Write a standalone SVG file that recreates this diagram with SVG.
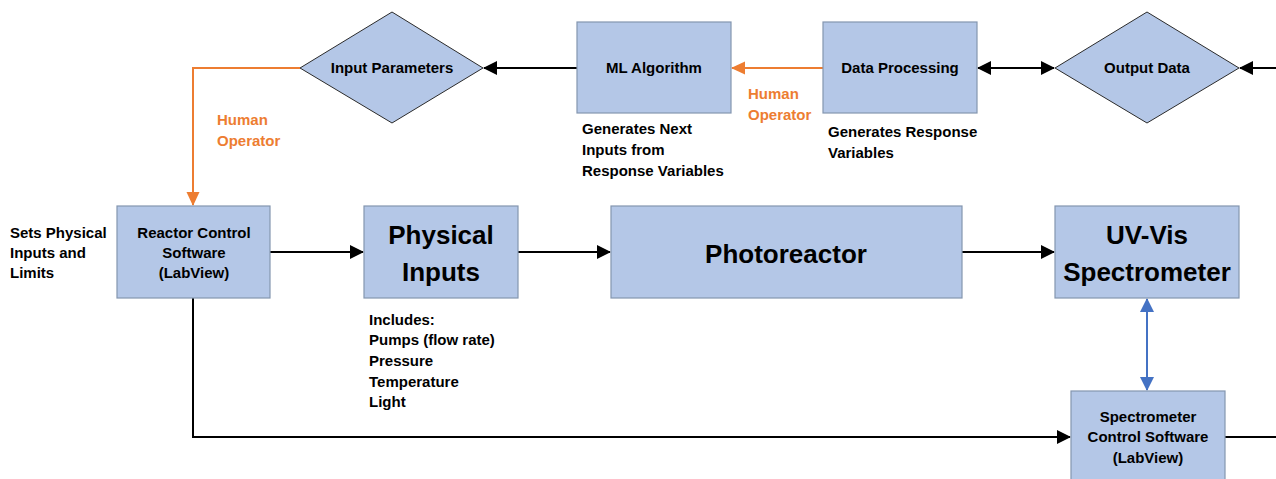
<svg xmlns="http://www.w3.org/2000/svg" width="1276" height="479" viewBox="0 0 1276 479">
<style>
.box{fill:#B4C7E7;stroke:#8496B0;stroke-width:1.2}
.dia{fill:#B4C7E7;stroke:#2b2b2b;stroke-width:1}
text{font-family:"Liberation Sans",Arial,sans-serif;font-weight:bold;fill:#000}
.s{font-size:15px}
.c{text-anchor:middle}
.big{font-size:26px}
.or{fill:#ED7D31}
.k{stroke:#000;stroke-width:2;fill:none}
.o{stroke:#ED7D31;stroke-width:2;fill:none}
.b{stroke:#4472C4;stroke-width:2;fill:none}
</style>
<defs>
<marker id="ak" markerUnits="userSpaceOnUse" viewBox="0 0 14 14" markerWidth="14" markerHeight="14" refX="13" refY="7" orient="auto-start-reverse"><path d="M0,0 L14,7 L0,14 z" fill="#000"/></marker>
<marker id="ao" markerUnits="userSpaceOnUse" viewBox="0 0 14 14" markerWidth="14" markerHeight="14" refX="13" refY="7" orient="auto-start-reverse"><path d="M0,0.5 L14,7 L0,13.5 z" fill="#ED7D31"/></marker>
<marker id="ab" markerUnits="userSpaceOnUse" viewBox="0 0 14 14" markerWidth="14" markerHeight="14" refX="13" refY="7" orient="auto-start-reverse"><path d="M0,0 L14,7 L0,14 z" fill="#4472C4"/></marker>
</defs>

<g id="connectors">
<path class="k" d="M577,68 H484" marker-end="url(#ak)"/>
<path class="o" d="M823,68 H732" marker-end="url(#ao)"/>
<path class="k" d="M978,68 H1054" marker-start="url(#ak)" marker-end="url(#ak)"/>
<path class="k" d="M1276,68 H1240" marker-end="url(#ak)"/>
<path class="o" d="M300,68 H193 V205" marker-end="url(#ao)"/>
<path class="k" d="M270,252 H363" marker-end="url(#ak)"/>
<path class="k" d="M518,252 H610" marker-end="url(#ak)"/>
<path class="k" d="M962,252 H1054" marker-end="url(#ak)"/>
<path class="b" d="M1147,299 V390" marker-start="url(#ab)" marker-end="url(#ab)"/>
<path class="k" d="M193,298 V437 H1070" marker-end="url(#ak)"/>
<path class="k" d="M1225,437 H1276"/>
<text class="s or" x="217" y="125">Human</text>
<text class="s or" x="217" y="146">Operator</text>
<text class="s or" x="748" y="99">Human</text>
<text class="s or" x="748" y="120">Operator</text>
</g>

<g id="input-parameters">
<polygon class="dia" points="300,68 392,12 483,68 392,123"/>
<text class="s c" x="392" y="73">Input Parameters</text>
</g>

<g id="ml-algorithm">
<rect class="box" x="577" y="22" width="154" height="91"/>
<text class="s c" x="654" y="73">ML Algorithm</text>
<text class="s" x="582" y="134">Generates Next</text>
<text class="s" x="582" y="155">Inputs from</text>
<text class="s" x="582" y="176">Response Variables</text>
</g>

<g id="data-processing">
<rect class="box" x="823" y="22" width="154" height="91"/>
<text class="s c" x="900" y="73">Data Processing</text>
<text class="s" x="828" y="137">Generates Response</text>
<text class="s" x="828" y="158">Variables</text>
</g>

<g id="output-data">
<polygon class="dia" points="1055,68 1147,12 1239,68 1147,123"/>
<text class="s c" x="1147" y="73">Output Data</text>
</g>

<g id="reactor-control">
<text class="s" x="10" y="238">Sets Physical</text>
<text class="s" x="10" y="258">Inputs and</text>
<text class="s" x="10" y="278">Limits</text>
<rect class="box" x="117" y="206" width="153" height="92"/>
<text class="s c" x="194" y="238">Reactor Control</text>
<text class="s c" x="194" y="258">Software</text>
<text class="s c" x="194" y="278">(LabView)</text>
</g>

<g id="physical-inputs">
<rect class="box" x="364" y="206" width="154" height="92"/>
<text class="big c" x="441" y="244">Physical</text>
<text class="big c" x="441" y="281">Inputs</text>
<text class="s" x="369" y="325">Includes:</text>
<text class="s" x="369" y="345">Pumps (flow rate)</text>
<text class="s" x="369" y="366">Pressure</text>
<text class="s" x="369" y="387">Temperature</text>
<text class="s" x="369" y="407">Light</text>
</g>

<g id="photoreactor">
<rect class="box" x="611" y="206" width="351" height="92"/>
<text class="big c" x="786" y="263">Photoreactor</text>
</g>

<g id="uv-vis">
<rect class="box" x="1055" y="206" width="184" height="92"/>
<text class="big c" x="1147" y="244">UV-Vis</text>
<text class="big c" x="1147" y="281">Spectrometer</text>
</g>

<g id="spectrometer-control">
<rect class="box" x="1071" y="391" width="154" height="92"/>
<text class="s c" x="1148" y="422">Spectrometer</text>
<text class="s c" x="1148" y="442">Control Software</text>
<text class="s c" x="1148" y="463">(LabView)</text>
</g>
</svg>
